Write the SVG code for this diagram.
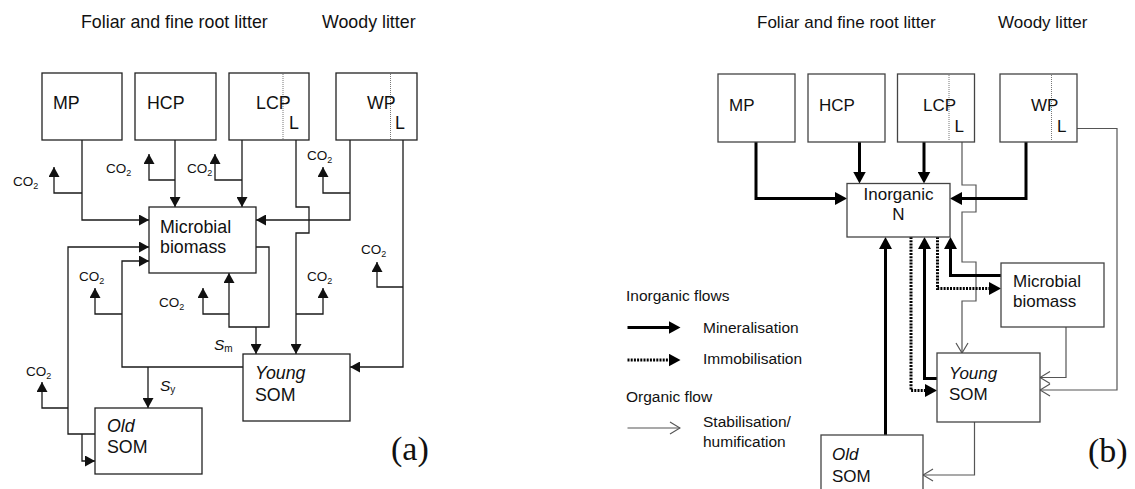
<svg xmlns="http://www.w3.org/2000/svg" width="1135" height="489" viewBox="0 0 1135 489">
<style>
text{font-family:"Liberation Sans",Arial,sans-serif;fill:#111}
.ta{font-size:17.8px}
.tb{font-size:17px}
.lg{font-size:15.5px}
.co{font-size:13.5px}
.sub{font-size:9px}
.it{font-style:italic}
.lab{font-family:"Liberation Serif","Times New Roman",serif;font-size:34px}
.ba{fill:#fff;stroke:#222;stroke-width:1.3}
.bb{fill:#fff;stroke:#444;stroke-width:1.3}
.dv{stroke:#777;stroke-width:1;stroke-dasharray:1 1;fill:none}
.la{fill:none;stroke:#1a1a1a;stroke-width:1.3;marker-end:url(#ta)}
.lk{fill:none;stroke:#000;stroke-width:3;marker-end:url(#tb)}
.ld{fill:none;stroke:#000;stroke-width:3;stroke-dasharray:2 1.2;marker-end:url(#tb)}
.lo{fill:none;stroke:#555;stroke-width:1.2;marker-end:url(#ob)}
</style>
<defs>
<marker id="ta" viewBox="0 0 10 11" refX="10" refY="5.5" markerWidth="10" markerHeight="11" markerUnits="userSpaceOnUse" orient="auto"><path d="M0,0 L10,5.5 L0,11 Z" fill="#111"/></marker>
<marker id="tb" viewBox="0 0 12 13" refX="6" refY="6.5" markerWidth="12" markerHeight="13" markerUnits="userSpaceOnUse" orient="auto"><path d="M0,0 L12,6.5 L0,13 Z" fill="#000"/></marker>
<marker id="ob" viewBox="-1 -1 12 14" refX="10" refY="6" markerWidth="12" markerHeight="14" markerUnits="userSpaceOnUse" orient="auto"><path d="M0,0 L10,6 L0,12" fill="none" stroke="#555" stroke-width="1.2"/></marker>
</defs>
<rect width="1135" height="489" fill="#fff"/>

<!-- ===== Diagram (a) ===== -->
<g id="a-titles">
<text class="ta" x="81" y="28">Foliar and fine root litter</text>
<text class="ta" x="322" y="28">Woody litter</text>
</g>
<g id="a-connectors">
<path class="la" d="M82,140 V220 H149"/>
<path class="la" d="M82,193 H54 V167"/>
<path class="la" d="M175,140 V207"/>
<path class="la" d="M175,180 H149 V154"/>
<path class="la" d="M242,140 V207"/>
<path class="la" d="M242,180 H215 V154"/>
<path class="la" d="M296,140 V207 H309 V233 H296 V354"/>
<path class="la" d="M296,314 H323 V288"/>
<path class="la" d="M350,140 V220 H256"/>
<path class="la" d="M350,193 H323 V167"/>
<path class="la" d="M403,140 V367 H350"/>
<path class="la" d="M403,287 H377 V262"/>
<path class="la" d="M256,247 H269 V327 H229 V273"/>
<path class="la" d="M256,327 V354"/>
<path class="la" d="M229,314 H203 V288"/>
<path class="la" d="M243,367 H122 V261 H149"/>
<path class="la" d="M148,367 V408"/>
<path class="la" d="M122,314 H95 V288"/>
<path class="la" d="M95,434 H68 V247 H149"/>
<path class="la" d="M68,408 H42 V382"/>
<path class="la" d="M82,434 V461 H95"/>
</g>
<g id="a-co2">
<text class="co" x="13" y="186">CO<tspan class="sub" dy="3">2</tspan></text>
<text class="co" x="106" y="173">CO<tspan class="sub" dy="3">2</tspan></text>
<text class="co" x="187" y="173">CO<tspan class="sub" dy="3">2</tspan></text>
<text class="co" x="307" y="160">CO<tspan class="sub" dy="3">2</tspan></text>
<text class="co" x="361" y="254">CO<tspan class="sub" dy="3">2</tspan></text>
<text class="co" x="307" y="281">CO<tspan class="sub" dy="3">2</tspan></text>
<text class="co" x="79" y="281">CO<tspan class="sub" dy="3">2</tspan></text>
<text class="co" x="159" y="307">CO<tspan class="sub" dy="3">2</tspan></text>
<text class="co" x="26" y="376">CO<tspan class="sub" dy="3">2</tspan></text>
<text x="214" y="350" font-size="15.5"><tspan class="it">S</tspan><tspan font-size="10" dy="2">m</tspan></text>
<text x="160" y="391" font-size="15.5"><tspan class="it">S</tspan><tspan font-size="10" dy="2">y</tspan></text>
</g>
<g id="a-MP"><rect class="ba" x="42" y="73" width="80" height="67"/><text class="ta" x="53" y="109">MP</text></g>
<g id="a-HCP"><rect class="ba" x="135" y="73" width="81" height="67"/><text class="ta" x="147" y="109">HCP</text></g>
<g id="a-LCP"><rect class="ba" x="229" y="73" width="80" height="67"/><line class="dv" x1="283" y1="74" x2="283" y2="139"/><text class="ta" x="256" y="109">LCP</text><text class="ta" x="289" y="129">L</text></g>
<g id="a-WP"><rect class="ba" x="336" y="73" width="81" height="67"/><line class="dv" x1="390.5" y1="74" x2="390.5" y2="139"/><text class="ta" x="367" y="109">WP</text><text class="ta" x="395" y="129">L</text></g>
<g id="a-microbial"><rect class="ba" x="149" y="207" width="107" height="66"/><text class="ta" x="160" y="233">Microbial</text><text class="ta" x="160" y="253">biomass</text></g>
<g id="a-young"><rect class="ba" x="243" y="354" width="107" height="67"/><text class="ta it" x="255" y="379">Young</text><text class="ta" x="255" y="401">SOM</text></g>
<g id="a-old"><rect class="ba" x="95" y="408" width="107" height="66"/><text class="ta it" x="107" y="432">Old</text><text class="ta" x="107" y="453">SOM</text></g>
<text class="lab" x="391" y="460">(a)</text>

<!-- ===== Diagram (b) ===== -->
<g id="b-titles">
<text class="tb" x="757" y="28">Foliar and fine root litter</text>
<text class="tb" x="998" y="28">Woody litter</text>
</g>
<g id="b-connectors">
<path class="lo" d="M962,142 V185 H976 V212 H962 V262 H976 V301 H962 V353"/>
<path class="lo" d="M1066,327 V377.5 H1040"/>
<path class="lo" d="M1077,128.5 H1117 V390 H1040"/>
<path class="lo" d="M974.5,422 V475 H923"/>
<path class="lk" d="M756,142 V198.5 H841"/>
<path class="lk" d="M859.5,142 V177.5"/>
<path class="lk" d="M924,142 V177.5"/>
<path class="lk" d="M1026,142 V198.5 H956"/>
<path class="lk" d="M885.5,435 V243"/>
<path class="lk" d="M937,378.5 H924.5 V243"/>
<path class="lk" d="M1001,275.5 H950.5 V243"/>
<path class="ld" d="M911,237 V390.5 H931"/>
<path class="ld" d="M937.5,237 V288.5 H995"/>
</g>
<g id="b-MP"><rect class="bb" x="718" y="74" width="77" height="68"/><text class="tb" x="729" y="111">MP</text></g>
<g id="b-HCP"><rect class="bb" x="808" y="74" width="77" height="68"/><text class="tb" x="819" y="111">HCP</text></g>
<g id="b-LCP"><rect class="bb" x="897.5" y="74" width="77" height="68"/><line class="dv" x1="949" y1="75" x2="949" y2="141"/><text class="tb" x="923" y="111">LCP</text><text class="tb" x="954.5" y="132">L</text></g>
<g id="b-WP"><rect class="bb" x="1000" y="74" width="77" height="68"/><line class="dv" x1="1051.5" y1="75" x2="1051.5" y2="141"/><text class="tb" x="1031" y="111">WP</text><text class="tb" x="1057" y="132">L</text></g>
<g id="b-inorganic"><rect class="bb" x="847" y="183.5" width="103" height="53.5"/><text class="tb" x="898.5" y="200" text-anchor="middle">Inorganic</text><text class="tb" x="898.5" y="220" text-anchor="middle">N</text></g>
<g id="b-microbial"><rect class="bb" x="1001" y="263" width="103" height="64"/><text class="tb" x="1013" y="287">Microbial</text><text class="tb" x="1013" y="307">biomass</text></g>
<g id="b-young"><rect class="bb" x="937" y="353" width="103" height="69"/><text class="tb it" x="949" y="379">Young</text><text class="tb" x="949" y="400">SOM</text></g>
<g id="b-old"><rect class="bb" x="821" y="435" width="102" height="62"/><text class="tb it" x="832" y="460">Old</text><text class="tb" x="832" y="482">SOM</text></g>
<g id="legend">
<text class="lg" x="626" y="301">Inorganic flows</text>
<path class="lk" d="M627.5,327.5 H674.5"/>
<text class="lg" x="703" y="333">Mineralisation</text>
<path class="ld" d="M627.5,360 H674.5"/>
<text class="lg" x="703" y="364">Immobilisation</text>
<text class="lg" x="626" y="402">Organic flow</text>
<path class="lo" d="M627.5,428 H680"/>
<text class="lg" x="703" y="427">Stabilisation/</text>
<text class="lg" x="703" y="447">humification</text>
</g>
<text class="lab" x="1088" y="462">(b)</text>
</svg>
